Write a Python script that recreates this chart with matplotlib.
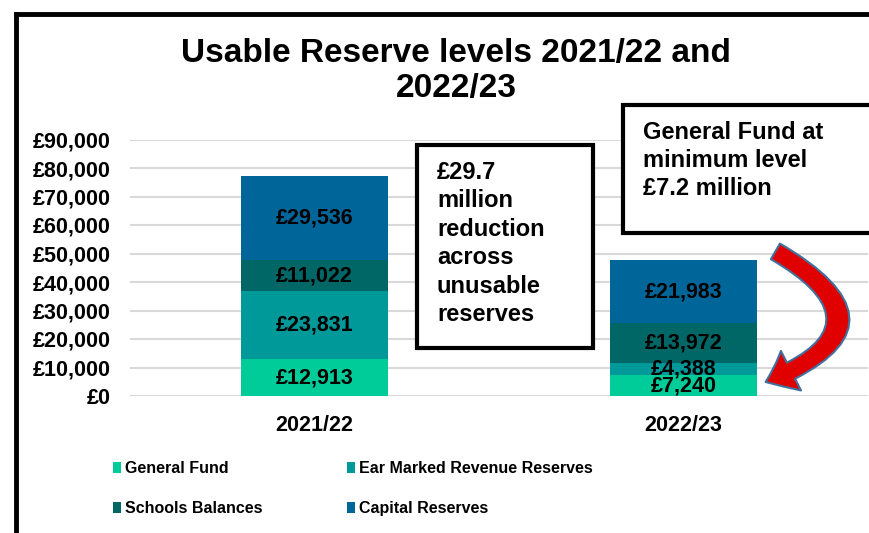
import matplotlib
matplotlib.use('Agg')
import matplotlib.pyplot as plt
from matplotlib.patches import Patch, Rectangle, FancyArrowPatch
from matplotlib.lines import Line2D
from matplotlib.ticker import FuncFormatter
import numpy as np

plt.rcParams['font.family'] = ['Liberation Sans', 'DejaVu Sans']
plt.rcParams['font.weight'] = 'bold'

years = ['2021/22', '2022/23']
series_names = ['General Fund', 'Ear Marked Revenue Reserves', 'Schools Balances', 'Capital Reserves']
general_fund = [12913, 7240]
ear_marked = [23831, 4388]
schools = [11022, 13972]
capital = [29536, 21983]
colours = ['#00cc99', '#009999', '#006666', '#006699']

W, H = 870, 533
fig = plt.figure(figsize=(W / 100, H / 100), dpi=100)
fig.patch.set_facecolor('white')


def fx(px):
    return px / W


def fy(py):
    return 1 - py / H


ax = fig.add_axes([fx(130), fy(396), fx(868) - fx(130), fy(139.5) - fy(396)])

x = np.arange(len(years))
bottom = np.zeros(len(years))
for name, vals, col in zip(series_names, [general_fund, ear_marked, schools, capital], colours):
    vals = np.array(vals, dtype=float)
    ax.bar(x, vals, width=0.4, bottom=bottom, color=col, zorder=3, label=name)
    for xi, b, v in zip(x, bottom, vals):
        ax.text(xi, b + v / 2, f'£{int(v):,}', ha='center', va='center',
                fontsize=15.5, fontweight='bold', color='black', zorder=4)
    bottom += vals

ax.set_xlim(-0.5, 1.5)
ax.set_ylim(0, 90000)
ax.set_yticks(np.arange(0, 90001, 10000))
ax.yaxis.set_major_formatter(FuncFormatter(lambda v, p: f'£{int(v):,}'))
ax.set_xticks(x)
ax.set_xticklabels(years)
ax.tick_params(axis='both', length=0, labelsize=15.5)
ax.tick_params(axis='y', pad=14)
ax.tick_params(axis='x', pad=14)
for lab in ax.get_xticklabels() + ax.get_yticklabels():
    lab.set_fontweight('bold')
ax.grid(axis='y', color='#d9d9d9', linewidth=1.5, zorder=0)
ax.set_axisbelow(True)
for s in ax.spines.values():
    s.set_visible(False)

# title
fig.text(fx(456), fy(71), 'Usable Reserve levels 2021/22 and\n2022/23', ha='center', va='center',
         fontsize=24, fontweight='bold', linespacing=1.2)

# note boxes
fig.patches.append(Rectangle((fx(417), fy(348)), fx(593) - fx(417), fy(145) - fy(348),
                             transform=fig.transFigure, facecolor='white', edgecolor='black',
                             linewidth=3, zorder=5))
fig.text(fx(437), fy(161), '£29.7\nmillion\nreduction\nacross\nunusable\nreserves',
         ha='left', va='top', fontsize=17, fontweight='bold', linespacing=1.3, zorder=6)

fig.patches.append(Rectangle((fx(623), fy(233)), fx(900) - fx(623), fy(105) - fy(233),
                             transform=fig.transFigure, facecolor='white', edgecolor='black',
                             linewidth=3, zorder=5, clip_on=False))
fig.text(fx(643), fy(121), 'General Fund at\nminimum level\n£7.2 million',
         ha='left', va='top', fontsize=17, fontweight='bold', linespacing=1.28, zorder=6)

# curved arrow pointing at the general fund
arrow = FancyArrowPatch((fx(773), fy(250)), (fx(763), fy(383)),
                        transform=fig.transFigure,
                        connectionstyle='arc3,rad=-1.05',
                        arrowstyle='simple,head_length=20,head_width=32,tail_width=13',
                        facecolor='#e00000', edgecolor='#41719c', linewidth=1.5,
                        mutation_scale=1, zorder=7)
fig.patches.append(arrow)

# legend
handles = [Patch(facecolor=c) for c in colours]
order = [0, 2, 1, 3]
leg = fig.legend([handles[i] for i in order], [series_names[i] for i in order],
                 loc='upper left', bbox_to_anchor=(fx(113), fy(461)), ncol=2, frameon=False,
                 borderpad=0, borderaxespad=0, handlelength=0.5, handleheight=0.7,
                 handletextpad=0.25, columnspacing=5.3, labelspacing=1.55,
                 prop={'weight': 'bold', 'size': 11.5})

# outer frame
fig.lines.append(Line2D([fx(16), fx(16)], [0, fy(13.5)], transform=fig.transFigure,
                        color='black', linewidth=3.5, solid_capstyle='projecting'))
fig.lines.append(Line2D([fx(16), 1.01], [fy(13.5), fy(13.5)], transform=fig.transFigure,
                        color='black', linewidth=3.5, solid_capstyle='projecting'))

fig.savefig('out.png', dpi=100)
